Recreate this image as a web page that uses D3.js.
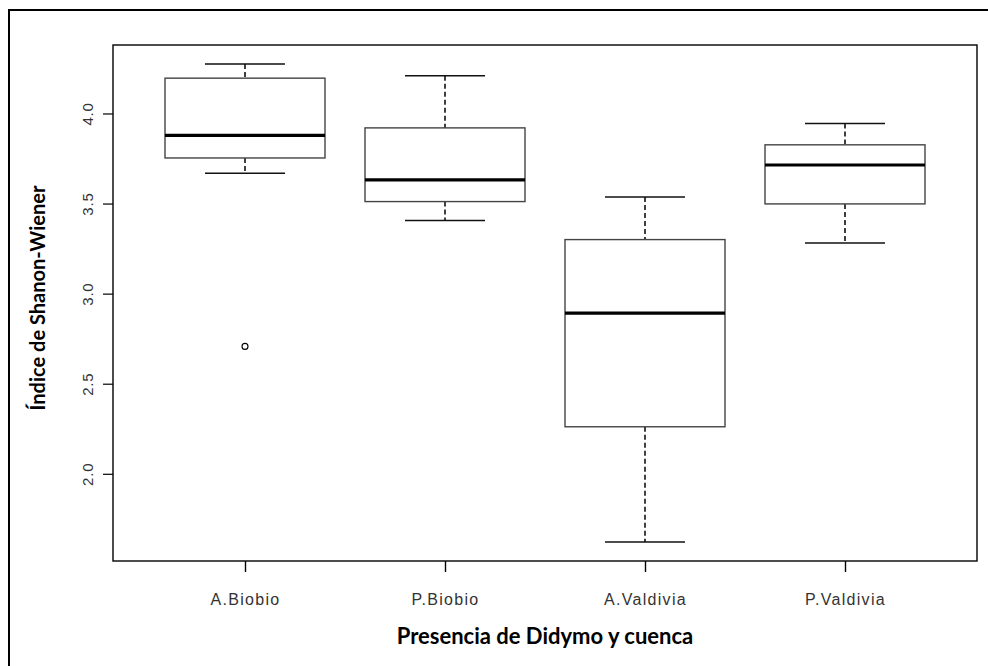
<!DOCTYPE html>
<html>
<head>
<meta charset="utf-8">
<script src="https://cdn.jsdelivr.net/npm/d3@7"></script>
<style>
  body { margin: 0; background: #fff; }
  .tick-label { font-family: "Liberation Sans", Arial, sans-serif; fill: #333; }
  .title { font-family: Lato, "Open Sans", sans-serif; font-weight: bold; fill: #000; }
</style>
</head>
<body>
<div id="chart"></div>
<script>
// data
var groups = ["A.Biobio", "P.Biobio", "A.Valdivia", "P.Valdivia"];
var whiskerLow  = [3.668, 3.406, 1.622, 3.281];
var q1          = [3.753, 3.511, 2.261, 3.498];
var median      = [3.878, 3.631, 2.892, 3.714];
var q3          = [4.196, 3.920, 3.300, 3.826];
var whiskerHigh = [4.274, 4.209, 3.537, 3.944];
var outliers = [{ group: "A.Biobio", value: 2.707 }];
var yTicks = [2.0, 2.5, 3.0, 3.5, 4.0];

var w = 988;
var h = 666;
var plotLeft = 113, plotRight = 977, plotTop = 45, plotBottom = 561;

var svg = d3.select("#chart")
    .append("svg")
    .attr("width", w)
    .attr("height", h);

// outer frame (runs off the right and bottom of the picture)
svg.append("rect")
    .attr("x", 9).attr("y", 10)
    .attr("width", 1000).attr("height", 700)
    .attr("fill", "none")
    .attr("stroke", "#000")
    .attr("stroke-width", 2);

// R style: x from 0.5 to n+0.5, widened by 4%
var xScale = d3.scaleLinear()
    .domain([0.34, groups.length + 0.66])
    .range([plotLeft, plotRight]);

var yMin = d3.min(whiskerLow), yMax = d3.max(whiskerHigh);
var pad = (yMax - yMin) * 0.04;
var yScale = d3.scaleLinear()
    .domain([yMin - pad, yMax + pad])
    .range([plotBottom, plotTop]);

var boxHalf = xScale(1.4) - xScale(1);   // box width 0.8
var capHalf = boxHalf / 2;

var data = groups.map(function (g, i) {
    return { name: g, i: i + 1, lo: whiskerLow[i], q1: q1[i], med: median[i], q3: q3[i], hi: whiskerHigh[i] };
});

var box = svg.selectAll(".box")
    .data(data)
    .enter().append("g")
    .attr("class", "box");

// whiskers
box.append("line")
    .attr("x1", function (d) { return xScale(d.i); })
    .attr("x2", function (d) { return xScale(d.i); })
    .attr("y1", function (d) { return yScale(d.hi); })
    .attr("y2", function (d) { return yScale(d.q3); })
    .attr("stroke", "#000").attr("stroke-width", 1.5)
    .attr("stroke-dasharray", "5,3");
box.append("line")
    .attr("x1", function (d) { return xScale(d.i); })
    .attr("x2", function (d) { return xScale(d.i); })
    .attr("y1", function (d) { return yScale(d.q1); })
    .attr("y2", function (d) { return yScale(d.lo); })
    .attr("stroke", "#000").attr("stroke-width", 1.5)
    .attr("stroke-dasharray", "5,3");

// staples
["hi", "lo"].forEach(function (k) {
    box.append("line")
        .attr("x1", function (d) { return xScale(d.i) - capHalf; })
        .attr("x2", function (d) { return xScale(d.i) + capHalf; })
        .attr("y1", function (d) { return yScale(d[k]); })
        .attr("y2", function (d) { return yScale(d[k]); })
        .attr("stroke", "#111").attr("stroke-width", 1.5);
});

box.append("rect")
    .attr("x", function (d) { return xScale(d.i) - boxHalf; })
    .attr("y", function (d) { return yScale(d.q3); })
    .attr("width", boxHalf * 2)
    .attr("height", function (d) { return yScale(d.q1) - yScale(d.q3); })
    .attr("fill", "#fff")
    .attr("stroke", "#444")
    .attr("stroke-width", 1.4);

box.append("line")
    .attr("x1", function (d) { return xScale(d.i) - boxHalf; })
    .attr("x2", function (d) { return xScale(d.i) + boxHalf; })
    .attr("y1", function (d) { return yScale(d.med); })
    .attr("y2", function (d) { return yScale(d.med); })
    .attr("stroke", "#000").attr("stroke-width", 3.2);

// outliers
svg.selectAll(".outlier")
    .data(outliers)
    .enter().append("circle")
    .attr("class", "outlier")
    .attr("cx", function (d) { return xScale(groups.indexOf(d.group) + 1); })
    .attr("cy", function (d) { return yScale(d.value); })
    .attr("r", 3)
    .attr("fill", "none")
    .attr("stroke", "#000")
    .attr("stroke-width", 1.1);

// plot frame
svg.append("rect")
    .attr("x", plotLeft).attr("y", plotTop)
    .attr("width", plotRight - plotLeft).attr("height", plotBottom - plotTop)
    .attr("fill", "none")
    .attr("stroke", "#000")
    .attr("stroke-width", 1.4);

// X axis
var xAxis = d3.axisBottom(xScale)
    .tickValues(d3.range(1, groups.length + 1))
    .tickSize(11)
    .tickFormat(function (d) { return groups[d - 1]; });

var gx = svg.append("g")
    .attr("transform", "translate(0," + plotBottom + ")")
    .call(xAxis);
gx.select(".domain").remove();
gx.selectAll(".tick line").attr("stroke", "#000").attr("stroke-width", 1.4);
gx.selectAll(".tick text")
    .attr("class", "tick-label")
    .attr("y", 44)
    .attr("dy", null)
    .style("font-size", "16px")
    .style("letter-spacing", "1.3px");

// Y axis
var yAxis = d3.axisLeft(yScale)
    .tickValues(yTicks)
    .tickSize(10)
    .tickFormat(d3.format(".1f"));

var gy = svg.append("g")
    .attr("transform", "translate(" + plotLeft + ",0)")
    .call(yAxis);
gy.select(".domain").remove();
gy.selectAll(".tick line").attr("stroke", "#000").attr("stroke-width", 1.2);
gy.selectAll(".tick text")
    .attr("class", "tick-label")
    .attr("x", null).attr("dy", null)
    .attr("transform", "translate(-20,0) rotate(-90)")
    .attr("text-anchor", "middle")
    .style("font-size", "15px")
    .style("letter-spacing", "0.8px");

// axis titles
svg.append("text")
    .attr("class", "title")
    .attr("x", (plotLeft + plotRight) / 2)
    .attr("y", 644)
    .attr("text-anchor", "middle")
    .style("font-size", "22px")
    .text("Presencia de Didymo y cuenca");

svg.append("text")
    .attr("class", "title")
    .attr("transform", "translate(45,298) rotate(-90)")
    .attr("text-anchor", "middle")
    .style("font-size", "20px")
    .text("Índice de Shanon-Wiener");
</script>
</body>
</html>
